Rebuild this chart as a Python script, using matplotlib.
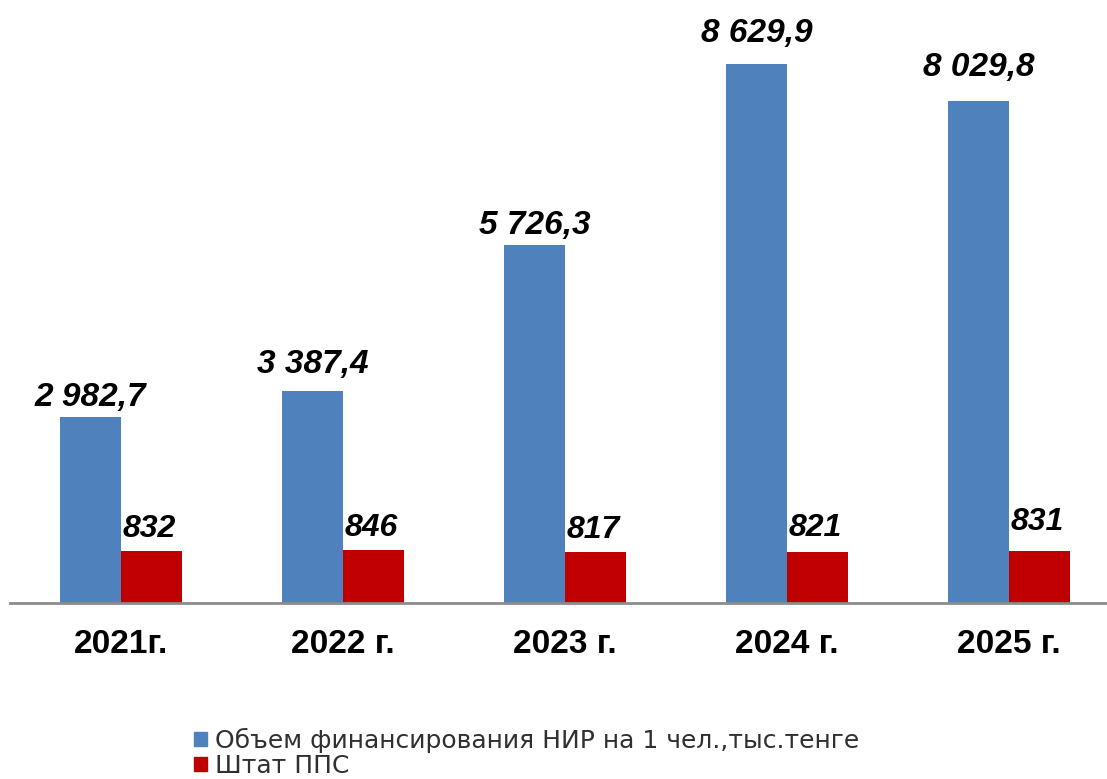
import matplotlib

matplotlib.use("Agg")
import matplotlib.pyplot as plt
import numpy as np
from matplotlib.patches import Patch

YEARS = ["2021г.", "2022 г.", "2023 г.", "2024 г.", "2025 г."]
FUNDING = [2982.7, 3387.4, 5726.3, 8629.9, 8029.8]
STAFF = [832, 846, 817, 821, 831]
FUNDING_LABELS = ["2 982,7", "3 387,4", "5 726,3", "8 629,9", "8 029,8"]
STAFF_LABELS = ["832", "846", "817", "821", "831"]
LEGEND = ["Объем финансирования НИР на 1 чел.,тыс.тенге", "Штат ППС"]

# label gap above each bar (points) - labels sit unevenly in the original
FUNDING_GAP = [8, 13.5, 8.5, 15.5, 18.5]
STAFF_GAP = [10, 10.5, 10, 11, 15]

BLUE = "#4F81BD"
RED = "#C00000"

plt.rcParams["font.family"] = ["Liberation Sans", "DejaVu Sans"]

W, H = 1107, 779
fig = plt.figure(figsize=(W / 100, H / 100), dpi=100)
base = 603
ax = fig.add_axes([10 / W, (H - base) / H, 1110 / W, (base - 10) / H])

x = np.arange(len(YEARS))
bw = 0.275
ax.bar(x - bw / 2, FUNDING, bw, color=BLUE, zorder=2)
ax.bar(x + bw / 2, STAFF, bw, color=RED, zorder=2)

ax.set_xlim(-0.5, 4.5)
ax.set_ylim(0, 593 / (539 / 8629.9))

for xi, v, s, g in zip(x, FUNDING, FUNDING_LABELS, FUNDING_GAP):
    ax.annotate(s, (xi - bw / 2, v), xytext=(0, g), textcoords="offset points",
                ha="center", va="baseline", fontsize=24, fontweight="bold",
                fontstyle="italic")
for xi, v, s, g in zip(x, STAFF, STAFF_LABELS, STAFF_GAP):
    ax.annotate(s, (xi + bw / 2 - 0.01, v), xytext=(0, g), textcoords="offset points",
                ha="center", va="baseline", fontsize=23, fontweight="bold",
                fontstyle="italic")

for s in ("top", "right", "left"):
    ax.spines[s].set_visible(False)
ax.spines["bottom"].set_color("#8c8c8c")
ax.spines["bottom"].set_linewidth(2)
ax.set_yticks([])
ax.set_xticks(x)
ax.set_xticklabels(YEARS, fontsize=24, fontweight="bold")
ax.tick_params(axis="x", length=0, pad=19)

handles = [Patch(color=BLUE), Patch(color=RED)]
fig.legend(handles, LEGEND, loc="lower left", bbox_to_anchor=(184 / W, -9 / H),
           frameon=False, handlelength=0.5, handleheight=0.5,
           handletextpad=0.35, labelspacing=0.05, borderaxespad=0,
           labelcolor="#303030",
           prop={"family": ["DejaVu Sans"], "size": 18})

fig.savefig("out.png", dpi=100)
